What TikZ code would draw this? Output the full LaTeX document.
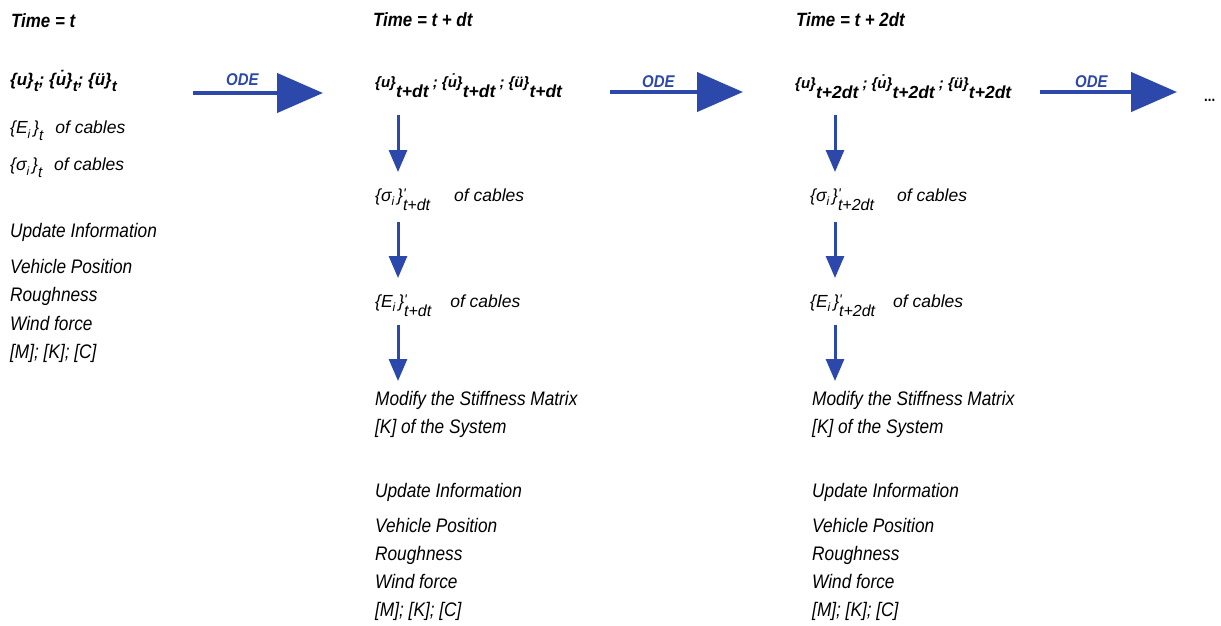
\documentclass[tikz,border=0pt]{standalone}
\usepackage{fontspec}
\setmainfont{Liberation Sans}[FakeStretch=0.88]
\newfontfamily\nf{Liberation Sans}
\usetikzlibrary{arrows.meta}
\definecolor{flowblue}{RGB}{44,72,170}

% size switch, lowered / raised pieces of text
\newcommand\fs[1]{\fontsize{#1}{#1}\selectfont}
\newcommand\dn[3]{\raisebox{-#1pt}{\fs{#2}#3}}
\newcommand\up[3]{\raisebox{#1pt}{\fs{#2}#3}}
% {x}_t  (first column)
\newcommand\vga[2]{\{#1\}\dn{6}{15}{#2}}
% {x}_{t+..}  (later columns): vector raised over a large index
\newcommand\vgb[2]{\up{10}{15}{\{#1\}}{\fs{17.5}#2}}
\newcommand\vsep{\up{10}{15}{\ ;\ }}
% prime with index
\newcommand\pri[1]{\rlap{\up{3}{14}{'}}\dn{9}{16}{#1}}

\begin{document}
\begin{tikzpicture}[x=1pt,y=-1pt,
  txt/.style={anchor=base west,inner sep=0pt,font=\itshape\fs{19.6}},
  hdr/.style={anchor=base west,inner sep=0pt,font=\bfseries\itshape\fs{19.2}},
  vec/.style={anchor=base west,inner sep=0pt,font=\nf\bfseries\itshape\fs{17}},
  cab/.style={anchor=base west,inner sep=0pt,font=\nf\itshape\fs{17.5}},
  odelabel/.style={anchor=base west,inner sep=0pt,text=flowblue,font=\bfseries\itshape\fs{17}},
  odearrow/.style={draw=flowblue,line width=4.5pt,-{Triangle[length=46pt,width=39pt]}},
  downarrow/.style={draw=flowblue,line width=3pt,-{Triangle[length=22pt,width=18pt]}}]
\useasboundingbox (0,0) rectangle (1221,625);

% ---- time t ----
\node[hdr] (h1) at (11,27) {Time = t};
\node[vec] (u1) at (10,85) {\vga{u}{t}; \vga{\.{u}}{t}; \vga{\"{u}}{t}};
\node[cab] (e1) at (10,133) {\{E\dn{5}{12}{i}\,\}\dn{7}{15}{t}\hspace{12pt}of cables};
\node[cab] (s1) at (10,170) {\{σ\dn{5}{12}{i}\,\}\dn{7}{15}{t}\hspace{12pt}of cables};
\node[txt] (ui1) at (10,237) {Update Information};
\node[txt] (vp1) at (10,273) {Vehicle Position};
\node[txt] (ro1) at (10,301) {Roughness};
\node[txt] (wf1) at (10,330) {Wind force};
\node[txt] (mk1) at (10,358) {[M]; [K]; [C]};

% ---- time t + dt ----
\node[hdr] (h2) at (373,26) {Time = t + dt};
\node[vec] (u2) at (375,97) {\vgb{u}{t+dt}\vsep\vgb{\.{u}}{t+dt}\vsep\vgb{\"{u}}{t+dt}};
\node[cab] (s2) at (375,201) {\{σ\dn{4}{12}{i}\,\}\pri{t+dt}\hspace{24pt}of cables};
\node[cab] (e2) at (375,307) {\{E\dn{4}{12}{i}\,\}\pri{t+dt}\hspace{19pt}of cables};
\node[txt] (mo2) at (375,405) {Modify the Stiffness Matrix};
\node[txt] (ks2) at (375,433) {[K] of the System};
\node[txt] (ui2) at (375,497) {Update Information};
\node[txt] (vp2) at (375,532) {Vehicle Position};
\node[txt] (ro2) at (375,560) {Roughness};
\node[txt] (wf2) at (375,588) {Wind force};
\node[txt] (mk2) at (375,616) {[M]; [K]; [C]};

% ---- time t + 2dt ----
\node[hdr] (h3) at (796,26) {Time = t + 2dt};
\node[vec] (u3) at (795,98) {\vgb{u}{t+2dt}\vsep\vgb{\.{u}}{t+2dt}\vsep\vgb{\"{u}}{t+2dt}};
\node[cab] (s3) at (810,201) {\{σ\dn{4}{12}{i}\,\}\pri{t+2dt}\hspace{23pt}of cables};
\node[cab] (e3) at (810,307) {\{E\dn{4}{12}{i}\,\}\pri{t+2dt}\hspace{18pt}of cables};
\node[txt] (mo3) at (812,405) {Modify the Stiffness Matrix};
\node[txt] (ks3) at (812,433) {[K] of the System};
\node[txt] (ui3) at (812,497) {Update Information};
\node[txt] (vp3) at (812,532) {Vehicle Position};
\node[txt] (ro3) at (812,560) {Roughness};
\node[txt] (wf3) at (812,588) {Wind force};
\node[txt] (mk3) at (812,616) {[M]; [K]; [C]};

\node[anchor=base west,inner sep=0pt,font=\bfseries\fs{15}] (more) at (1204,101) {...};

% ---- ODE steps between the time levels ----
\coordinate (o1s) at (193,93);  \coordinate (o1e) at (323,93);
\coordinate (o2s) at (610,92);  \coordinate (o2e) at (743,92);
\coordinate (o3s) at (1040,92); \coordinate (o3e) at (1177,92);
\draw[odearrow] (o1s) -- (o1e);
\draw[odearrow] (o2s) -- (o2e);
\draw[odearrow] (o3s) -- (o3e);
\node[odelabel] (l1) at (226,85) {ODE};
\node[odelabel] (l2) at (642,87) {ODE};
\node[odelabel] (l3) at (1075,87) {ODE};

% ---- update chain inside each time level ----
\foreach \c/\x in {b/398,c/835}{
  \coordinate (\c1s) at (\x,115); \coordinate (\c1e) at (\x,172);
  \coordinate (\c2s) at (\x,222); \coordinate (\c2e) at (\x,278);
  \coordinate (\c3s) at (\x,325); \coordinate (\c3e) at (\x,381);
  \draw[downarrow] (\c1s) -- (\c1e);
  \draw[downarrow] (\c2s) -- (\c2e);
  \draw[downarrow] (\c3s) -- (\c3e);
}
\end{tikzpicture}
\end{document}
